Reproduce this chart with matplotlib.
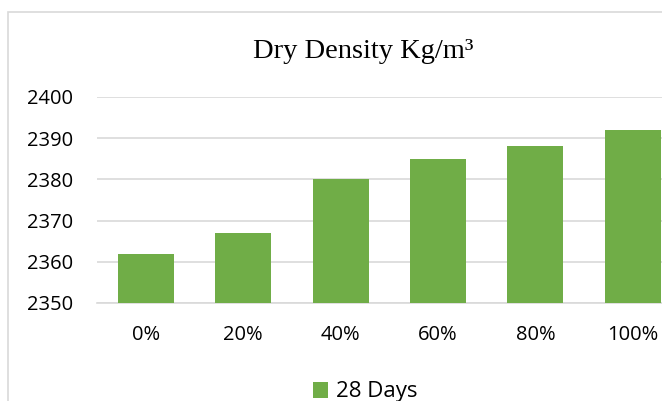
import matplotlib.pyplot as plt
from matplotlib.patches import Rectangle

# data
categories = ["0%", "20%", "40%", "60%", "80%", "100%"]
values_28 = [2362, 2367, 2380, 2385, 2388, 2392]
yticks = [2350, 2360, 2370, 2380, 2390, 2400]

W, H = 662, 401
fig = plt.figure(figsize=(W / 100, H / 100), dpi=100)

# chart border (cropped on right and bottom)
fig.patches.append(Rectangle((7.5 / W, -0.1), 1.2, 1 - 12 / H + 0.1,
                             transform=fig.transFigure, fill=False,
                             edgecolor="#D9D9D9", linewidth=1.2))

ax = fig.add_axes([97 / W, 1 - 303 / H, (W - 97) / W, (303 - 97) / H])
x = range(len(categories))
ax.bar(x, [v - 2350 for v in values_28], bottom=2350, width=0.575,
       color="#70AD47", zorder=3, label="28 Days")
ax.set_xlim(-0.5, 5.30)
ax.set_ylim(2350, 2400)
ax.set_yticks(yticks)
ax.set_xticks(list(x))
ax.set_xticklabels(categories)
ax.grid(axis="y", color="#D9D9D9", linewidth=1.2, zorder=0)
for s in ["top", "right", "left"]:
    ax.spines[s].set_visible(False)
ax.spines["bottom"].set_color("#D9D9D9")
ax.spines["bottom"].set_linewidth(1.2)
ax.tick_params(axis="both", length=0, labelsize=14.5, labelcolor="#000000")
ax.tick_params(axis="y", pad=17)
ax.tick_params(axis="x", pad=16)
for lab in ax.get_xticklabels() + ax.get_yticklabels():
    lab.set_family("Open Sans")

fig.text(363 / W, 1 - 58 / H, "Dry Density Kg/m³", ha="center", va="baseline",
         fontsize=20.5, family="Liberation Serif")

fig.legend(loc="center", bbox_to_anchor=(365 / W, 1 - 392 / H), frameon=False,
           handlelength=0.7, handleheight=0.7, handletextpad=0.35,
           prop={"family": "Open Sans", "size": 16})

fig.savefig("out.png", dpi=100)
